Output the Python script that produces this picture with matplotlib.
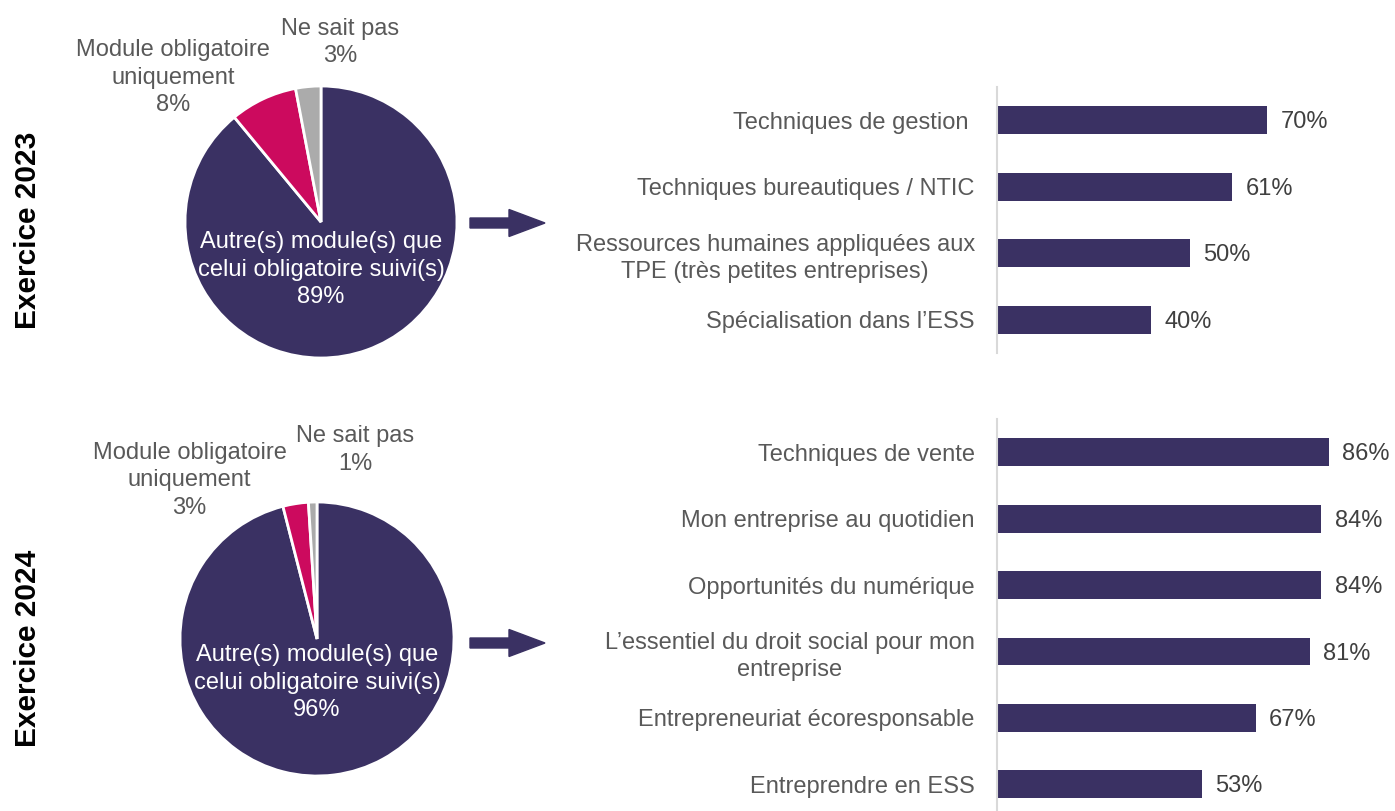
import matplotlib.pyplot as plt
from matplotlib.patches import FancyArrow

plt.rcParams['font.family'] = ['Liberation Sans', 'DejaVu Sans']

# data
years = ["Exercice 2023", "Exercice 2024"]
pie_labels = ["Autre(s) module(s) que\ncelui obligatoire suivi(s)",
              "Module obligatoire\nuniquement", "Ne sait pas"]
pie_2023 = [89, 8, 3]
pie_2024 = [96, 3, 1]

modules_2023 = ["Techniques de gestion ", "Techniques bureautiques / NTIC",
                "Ressources humaines appliquées aux\nTPE (très petites entreprises)",
                "Spécialisation dans l\u2019ESS"]
values_2023 = [70, 61, 50, 40]

modules_2024 = ["Techniques de vente", "Mon entreprise au quotidien",
                "Opportunités du numérique",
                "L\u2019essentiel du droit social pour mon\nentreprise",
                "Entrepreneuriat écoresponsable", "Entreprendre en ESS"]
values_2024 = [86, 84, 84, 81, 67, 53]

navy = "#3A3163"
pink = "#CC0A5E"
grey = "#ABABAB"
txt = "#595959"
LS = 1.32

W, H = 1395, 811
fig = plt.figure(figsize=(W / 100, H / 100), dpi=100)


def px_axes(x0, y0, x1, y1):
    # pixel box (top-left origin) -> figure axes
    return fig.add_axes([x0 / W, 1 - y1 / H, (x1 - x0) / W, (y1 - y0) / H])


def draw_pie(cx, cy, r, vals, lab_pos):
    ax = px_axes(cx - r, cy - r, cx + r, cy + r)
    ax.pie(vals, colors=[navy, pink, grey], startangle=90, counterclock=False,
           wedgeprops=dict(edgecolor="white", linewidth=2))
    ax.set_xlim(-1, 1)
    ax.set_ylim(-1, 1)
    # inner label
    ax.text(lab_pos[0][0], lab_pos[0][1], f"{pie_labels[0]}\n{vals[0]}%",
            ha="center", va="center", color="white", fontsize=17, linespacing=LS)
    for i in (1, 2):
        ax.text(lab_pos[i][0], lab_pos[i][1], f"{pie_labels[i]}\n{vals[i]}%",
                ha="center", va="center", color=txt, fontsize=17, clip_on=False,
                linespacing=LS)


def draw_bars(y0, y1, ylim, labels, vals):
    ax = px_axes(997, y0, 1383, y1)
    pos = range(len(vals))
    ax.barh(pos, vals, height=0.42, color=navy)
    ax.set_xlim(0, 100)
    ax.set_ylim(*ylim)
    ax.set_yticks(list(pos))
    ax.set_yticklabels(labels, fontsize=17, color=txt, ha="right",
                       multialignment="center", linespacing=LS)
    ax.tick_params(axis="y", length=0, pad=16)
    ax.set_xticks([])
    for s in ("top", "right", "bottom"):
        ax.spines[s].set_visible(False)
    ax.spines["left"].set_color("#D9D9D9")
    ax.spines["left"].set_linewidth(1.5)
    for p, v in zip(pos, vals):
        ax.text(v + 3.5, p + 0.03, f"{v}%", va="center", ha="left", fontsize=17,
                color="#404040")
    ax.patch.set_alpha(0)


draw_pie(321, 222, 136, pie_2023, [(0, -0.35), (-1.09, 1.06), (0.14, 1.32)])
draw_pie(317, 639, 137, pie_2024, [(0, -0.32), (-0.93, 1.16), (0.28, 1.38)])

draw_bars(87, 353, (3.5, -0.5), modules_2023, values_2023)
draw_bars(419, 811, (5.4, -0.5), modules_2024, values_2024)

# arrows
for ypx in (223, 643):
    fig.add_artist(FancyArrow(4.70, (H - ypx) / 100, 0.75, 0, width=0.10,
                              head_width=0.27, head_length=0.36,
                              length_includes_head=True, color=navy,
                              transform=fig.dpi_scale_trans))

# year labels
fig.text(28 / W, 1 - 230 / H, years[0], rotation=90, ha="center", va="center",
         fontsize=21.5, fontweight="bold", color="black")
fig.text(28 / W, 1 - 648 / H, years[1], rotation=90, ha="center", va="center",
         fontsize=21.5, fontweight="bold", color="black")

fig.savefig("out.png", dpi=100)
